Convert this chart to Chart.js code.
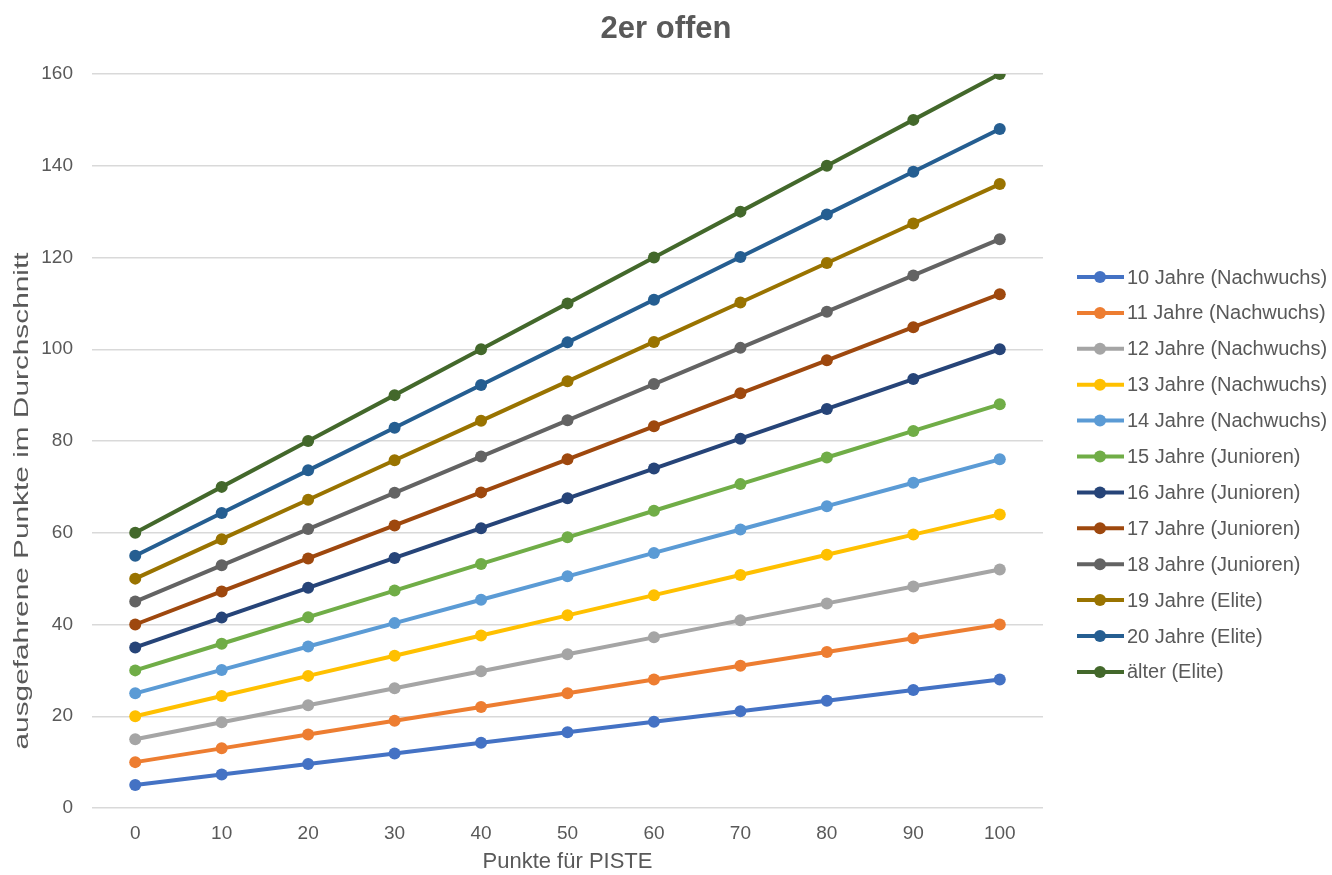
<!DOCTYPE html>
<html>
<head>
<meta charset="utf-8">
<script src="https://cdn.jsdelivr.net/npm/chart.js@4/dist/chart.umd.min.js"></script>
<style>
html,body{margin:0;padding:0;background:#fff;}
#wrap{width:1332px;height:875px;position:relative;}
</style>
</head>
<body>
<div id="wrap"><canvas id="c" width="1332" height="875"></canvas></div>
<script>
const categories = ['0','10','20','30','40','50','60','70','80','90','100'];
const seriesNames = ['10 Jahre (Nachwuchs)','11 Jahre (Nachwuchs)','12 Jahre (Nachwuchs)','13 Jahre (Nachwuchs)','14 Jahre (Nachwuchs)','15 Jahre (Junioren)','16 Jahre (Junioren)','17 Jahre (Junioren)','18 Jahre (Junioren)','19 Jahre (Elite)','20 Jahre (Elite)','älter (Elite)'];
const s10 = [5, 7.3, 9.6, 11.9, 14.2, 16.5, 18.8, 21.1, 23.4, 25.7, 28];
const s11 = [10, 13, 16, 19, 22, 25, 28, 31, 34, 37, 40];
const s12 = [15, 18.7, 22.4, 26.1, 29.8, 33.5, 37.2, 40.9, 44.6, 48.3, 52];
const s13 = [20, 24.4, 28.8, 33.2, 37.6, 42, 46.4, 50.8, 55.2, 59.6, 64];
const s14 = [25, 30.1, 35.2, 40.3, 45.4, 50.5, 55.6, 60.7, 65.8, 70.9, 76];
const s15 = [30, 35.8, 41.6, 47.4, 53.2, 59, 64.8, 70.6, 76.4, 82.2, 88];
const s16 = [35, 41.5, 48, 54.5, 61, 67.5, 74, 80.5, 87, 93.5, 100];
const s17 = [40, 47.2, 54.4, 61.6, 68.8, 76, 83.2, 90.4, 97.6, 104.8, 112];
const s18 = [45, 52.9, 60.8, 68.7, 76.6, 84.5, 92.4, 100.3, 108.2, 116.1, 124];
const s19 = [50, 58.6, 67.2, 75.8, 84.4, 93, 101.6, 110.2, 118.8, 127.4, 136];
const s20 = [55, 64.3, 73.6, 82.9, 92.2, 101.5, 110.8, 120.1, 129.4, 138.7, 148];
const sAelter = [60, 70, 80, 90, 100, 110, 120, 130, 140, 150, 160];
const seriesValues = [s10, s11, s12, s13, s14, s15, s16, s17, s18, s19, s20, sAelter];
const colors = ['#4472C4','#ED7D31','#A5A5A5','#FFC000','#5B9BD5','#70AD47','#264478','#9E480E','#636363','#997300','#255E91','#43682B'];
const chartTitle = '2er offen';
const xTitle = 'Punkte für PISTE';
const yTitle = 'ausgefahrene Punkte im Durchschnitt';

const FONT = "'Liberation Sans', Arial, sans-serif";
const TXT = '#595959';

const decorPlugin = {
  id: 'decor',
  afterDraw(chart) {
    const ctx = chart.ctx;
    const area = chart.chartArea;
    ctx.save();
    ctx.fillStyle = TXT;
    ctx.textBaseline = 'middle';
    ctx.textAlign = 'center';
    // title (centred on the whole canvas)
    ctx.font = "bold 31px " + FONT;
    ctx.fillText(chartTitle, chart.width / 2, 29);
    // x title
    ctx.font = "22px " + FONT;
    ctx.fillText(xTitle, (area.left + area.right) / 2, 862);
    // y title (stretched along its length like the reference)
    ctx.font = "21px " + FONT;
    const w = ctx.measureText(yTitle).width;
    const target = 497;
    ctx.save();
    ctx.translate(22, 501);
    ctx.rotate(-Math.PI / 2);
    ctx.scale(target / w, 1);
    ctx.fillText(yTitle, 0, 0);
    ctx.restore();
    // legend
    const x0 = 1077, lineLen = 47, textX = 1127;
    const y0 = 277, step = 35.9;
    ctx.font = "20px " + FONT;
    ctx.textAlign = 'left';
    chart.data.datasets.forEach((ds, i) => {
      const y = y0 + i * step;
      ctx.strokeStyle = ds.borderColor;
      ctx.lineWidth = 4;
      ctx.lineCap = 'butt';
      ctx.beginPath();
      ctx.moveTo(x0, y);
      ctx.lineTo(x0 + lineLen, y);
      ctx.stroke();
      ctx.fillStyle = ds.borderColor;
      ctx.beginPath();
      ctx.arc(1100, y, 6, 0, Math.PI * 2);
      ctx.fill();
      ctx.fillStyle = TXT;
      ctx.fillText(ds.label, textX, y + 1);
    });
    ctx.restore();
  }
};

new Chart(document.getElementById('c'), {
  type: 'line',
  data: {
    labels: categories,
    datasets: seriesValues.map((vals, i) => ({
      label: seriesNames[i],
      data: vals,
      borderColor: colors[i],
      backgroundColor: colors[i],
      borderWidth: 4,
      pointRadius: 6,
      pointHoverRadius: 6,
      pointBorderWidth: 0,
      tension: 0
    }))
  },
  options: {
    responsive: false,
    animation: false,
    layout: { padding: { left: 0, right: 289, top: 74, bottom: 0 } },
    plugins: {
      legend: { display: false },
      tooltip: { enabled: false },
      title: { display: false }
    },
    scales: {
      x: {
        offset: true,
        grid: { display: false, drawTicks: false },
        border: { display: false },
        ticks: { color: TXT, font: { family: FONT, size: 19 }, padding: 14, maxRotation: 0 },
        afterFit(scale) { scale.height = 67; }
      },
      y: {
        min: 0, max: 160,
        ticks: { stepSize: 20, color: TXT, font: { family: FONT, size: 19 }, padding: 19 },
        grid: { color: '#D9D9D9', lineWidth: 1.5, drawTicks: false },
        border: { display: false },
        afterFit(scale) { scale.width = 92; }
      }
    }
  },
  plugins: [decorPlugin]
});
</script>
</body>
</html>
